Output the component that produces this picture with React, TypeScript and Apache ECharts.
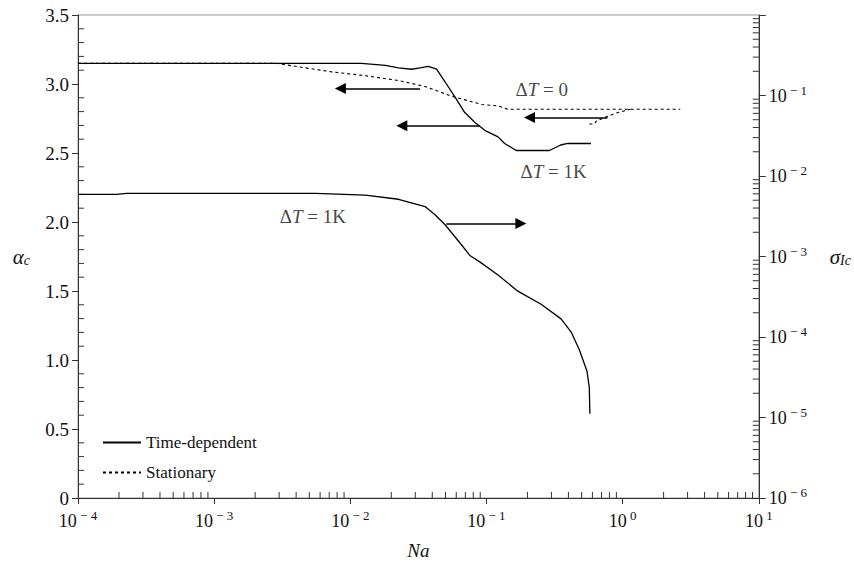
import React, { useEffect, useRef } from 'react';
import * as echarts from 'echarts';

// ---- data ----
// Time-dependent critical alpha (left axis)
const naAlphaTime = [1e-4, 0.0121, 0.0181, 0.0226, 0.0282, 0.0325, 0.0374, 0.043, 0.0495, 0.0586, 0.0693, 0.082, 0.0972, 0.1216, 0.136, 0.1655, 0.29, 0.351, 0.395, 0.585];
const alphaTime = [3.15, 3.15, 3.135, 3.117, 3.107, 3.117, 3.128, 3.107, 3.018, 2.907, 2.793, 2.723, 2.664, 2.617, 2.569, 2.518, 2.518, 2.558, 2.569, 2.569];

// Stationary critical alpha (left axis)
const naAlphaStat = [1e-4, 0.00284, 0.0042, 0.0073, 0.0129, 0.0226, 0.0354, 0.0553, 0.0918, 0.122, 0.144, 2.65];
const alphaStat = [3.15, 3.15, 3.124, 3.088, 3.06, 3.025, 2.982, 2.912, 2.852, 2.841, 2.817, 2.817];
const naAlphaStatHook = [0.57, 0.62, 0.64, 0.75, 0.9, 1.14];
const alphaStatHook = [2.71, 2.71, 2.73, 2.76, 2.79, 2.817];

// Time-dependent critical sigma_Ic (right axis)
const naSigmaTime = [1e-4, 1.92e-4, 2.27e-4, 5.56e-3, 0.0129, 0.0226, 0.0354, 0.0419, 0.0495, 0.062, 0.0755, 0.0893, 0.1216, 0.17, 0.252, 0.353, 0.418, 0.481, 0.547, 0.569, 0.575];
const sigmaTime = [5.9e-3, 5.9e-3, 6.07e-3, 6.07e-3, 5.78e-3, 5.14e-3, 4.17e-3, 3.3e-3, 2.5e-3, 1.57e-3, 1.03e-3, 8.57e-4, 5.9e-4, 3.71e-4, 2.55e-4, 1.68e-4, 1.16e-4, 6.93e-5, 3.78e-5, 2.37e-5, 1.11e-5];

// Arrows (left-axis coordinates): from Na, to Na, at alpha
const arrowFromNa = [0.0325, 0.0893, 0.774, 0.0507];
const arrowToNa = [0.00845, 0.0239, 0.207, 0.179];
const arrowAlpha = [2.967, 2.698, 2.758, 1.99];

// Annotations
const noteNa = [0.255, 0.311, 0.00531];
const noteAlpha = [2.958, 2.369, 2.039];
const noteSuffix = [' = 0', ' = 1K', ' = 1K'];

// Axes
const xMin = 1e-4;
const xMax = 10;
const yLeftTicks = [0, 0.5, 1.0, 1.5, 2.0, 2.5, 3.0, 3.5];
const yRightMin = 1e-6;
const yRightMax = 1;
const legendNames = ['Time-dependent', 'Stationary'];

const serif = '"Liberation Serif", "Times New Roman", serif';
const ink = '#111';
const axisInk = '#333';

const xMinor: number[][] = [];
for (let k = -4; k <= 0; k++) for (let m = 2; m <= 9; m++) xMinor.push([m * Math.pow(10, k), 0]);
const rMinor: number[][] = [];
for (let k = -6; k <= -1; k++) for (let m = 2; m <= 9; m++) rMinor.push([xMax, m * Math.pow(10, k)]);
const lMinor: number[][] = [];
for (let i = 1; i < 35; i++) if (i % 5 !== 0) lMinor.push([xMin, i / 10]);

const expLabel = (v: number) => {
  const e = Math.round(Math.log10(v));
  const s = e < 0 ? '\u2212 ' + -e : String(e);
  return `{b|10}{s| ${s}}`;
};
const richExp = {
  b: { fontSize: 18, fontFamily: serif, color: ink, lineHeight: 24 },
  s: { fontSize: 13, fontFamily: serif, color: ink, lineHeight: 13, verticalAlign: 'top' },
};
const richSub = {
  a: { fontFamily: serif, fontStyle: 'italic', fontSize: 21, color: ink, lineHeight: 22 },
  c: { fontFamily: serif, fontStyle: 'italic', fontSize: 14, color: ink, lineHeight: 14, verticalAlign: 'bottom' },
};

const option: any = {
  animation: false,
  backgroundColor: '#fff',
  grid: { left: 78, right: 92, top: 15, bottom: 55, show: true, borderColor: '#999', borderWidth: 1, backgroundColor: 'transparent' },
  legend: {
    data: legendNames,
    orient: 'vertical',
    left: 97,
    top: 429,
    itemWidth: 38,
    itemHeight: 14,
    itemGap: 13,
    itemStyle: { color: 'rgba(0,0,0,0)', borderColor: 'rgba(0,0,0,0)', borderWidth: 0, opacity: 0 },
    textStyle: { fontFamily: serif, fontSize: 17, color: ink },
  },
  xAxis: [
    {
      type: 'log',
      logBase: 10,
      min: xMin,
      max: xMax,
      splitNumber: 10,
      axisLine: { show: true, lineStyle: { color: axisInk, width: 1 } },
      axisTick: { show: true, length: 6, lineStyle: { color: axisInk } },
      axisLabel: { formatter: expLabel, rich: richExp, margin: 11, showMinLabel: true, showMaxLabel: true },
      splitLine: { show: false },
      minorTick: { show: false },
      name: '{i|Na}',
      nameLocation: 'middle',
      nameGap: 43,
      nameTextStyle: { rich: { i: { fontFamily: serif, fontStyle: 'italic', fontSize: 19, color: ink } } },
    },
  ],
  yAxis: [
    {
      type: 'value',
      min: yLeftTicks[0],
      max: yLeftTicks[yLeftTicks.length - 1],
      interval: 0.5,
      position: 'left',
      axisLine: { show: true, lineStyle: { color: axisInk, width: 1 } },
      axisTick: { show: true, length: 6, lineStyle: { color: axisInk } },
      axisLabel: {
        formatter: (v: number) => (v === 0 ? '0' : v.toFixed(1)),
        fontFamily: serif,
        fontSize: 19,
        color: ink,
        margin: 9,
      },
      splitLine: { show: false },
      name: '{a|\u03b1}{c|c}',
      nameLocation: 'middle',
      nameRotate: 0,
      nameGap: 48,
      nameTextStyle: { rich: richSub },
    },
    {
      type: 'log',
      logBase: 10,
      min: yRightMin,
      max: yRightMax,
      splitNumber: 10,
      position: 'right',
      axisLine: { show: true, lineStyle: { color: axisInk, width: 1 } },
      axisTick: { show: true, length: 7, lineStyle: { color: axisInk } },
      axisLabel: {
        formatter: (v: number) => (v >= 0.5 ? '' : expLabel(v)),
        rich: richExp,
        margin: 10,
        showMinLabel: true,
        showMaxLabel: true,
      },
      splitLine: { show: false },
      name: '{a|\u03c3}{c|Ic}',
      nameLocation: 'middle',
      nameRotate: 0,
      nameGap: 71,
      nameTextStyle: { align: 'left', rich: richSub },
    },
  ],
  series: [
    {
      name: 'Time-dependent',
      type: 'line',
      xAxisIndex: 0,
      yAxisIndex: 0,
      symbol: 'none',
      data: naAlphaTime.map((x, i) => [x, alphaTime[i]]),
      lineStyle: { color: '#000', width: 1.3, type: 'solid' },
      itemStyle: { color: '#000' },
    },
    {
      name: 'Time-dependent',
      type: 'line',
      xAxisIndex: 0,
      yAxisIndex: 1,
      symbol: 'none',
      data: naSigmaTime.map((x, i) => [x, sigmaTime[i]]),
      lineStyle: { color: '#000', width: 1.3, type: 'solid' },
      itemStyle: { color: '#000' },
    },
    {
      name: 'Stationary',
      type: 'line',
      xAxisIndex: 0,
      yAxisIndex: 0,
      symbol: 'none',
      data: naAlphaStat.map((x, i) => [x, alphaStat[i]]),
      lineStyle: { color: '#000', width: 1.1, type: [3, 3] },
      itemStyle: { color: '#000' },
    },
    {
      name: 'Stationary',
      type: 'line',
      xAxisIndex: 0,
      yAxisIndex: 0,
      symbol: 'none',
      data: naAlphaStatHook.map((x, i) => [x, alphaStatHook[i]]),
      lineStyle: { color: '#000', width: 1.1, type: [3, 3] },
      itemStyle: { color: '#000' },
    },
    {
      type: 'lines',
      coordinateSystem: 'cartesian2d',
      xAxisIndex: 0,
      yAxisIndex: 0,
      silent: true,
      symbol: ['none', 'triangle'],
      symbolSize: [1, 11],
      lineStyle: { color: '#000', width: 1.6, opacity: 1, curveness: 0 },
      data: arrowFromNa.map((x, i) => ({ coords: [[x, arrowAlpha[i]], [arrowToNa[i], arrowAlpha[i]]] })),
      z: 5,
    },
    {
      type: 'scatter',
      xAxisIndex: 0,
      yAxisIndex: 0,
      silent: true,
      symbolSize: 1,
      itemStyle: { color: 'rgba(0,0,0,0)' },
      data: noteNa.map((x, i) => ({ value: [x, noteAlpha[i]], name: noteSuffix[i] })),
      label: {
        show: true,
        position: 'inside',
        formatter: (p: any) => `{n|\u0394}{i|T}{n|${p.name}}`,
        rich: {
          n: { fontFamily: serif, fontSize: 19, color: ink },
          i: { fontFamily: serif, fontStyle: 'italic', fontSize: 19, color: ink },
        },
      },
    },
    {
      type: 'custom',
      xAxisIndex: 0,
      yAxisIndex: 0,
      silent: true,
      clip: false,
      data: xMinor,
      renderItem: (_p: any, api: any) => {
        const c = api.coord([api.value(0), 0]);
        return { type: 'line', shape: { x1: c[0], y1: c[1], x2: c[0], y2: c[1] - 6 }, style: { stroke: axisInk, lineWidth: 1 } };
      },
    },
    {
      type: 'custom',
      xAxisIndex: 0,
      yAxisIndex: 0,
      silent: true,
      clip: false,
      data: lMinor,
      renderItem: (_p: any, api: any) => {
        const c = api.coord([xMin, api.value(1)]);
        return { type: 'line', shape: { x1: c[0], y1: c[1], x2: c[0] + 6, y2: c[1] }, style: { stroke: axisInk, lineWidth: 1 } };
      },
    },
    {
      type: 'custom',
      xAxisIndex: 0,
      yAxisIndex: 1,
      silent: true,
      clip: false,
      data: rMinor,
      renderItem: (_p: any, api: any) => {
        const c = api.coord([xMax, api.value(1)]);
        return { type: 'line', shape: { x1: c[0], y1: c[1], x2: c[0] - 6, y2: c[1] }, style: { stroke: axisInk, lineWidth: 1 } };
      },
    },
  ],
};

export default function App() {
  const ref = useRef<HTMLDivElement>(null);
  useEffect(() => {
    const chart = echarts.init(ref.current!, null, { renderer: 'svg' });
    chart.setOption(option);
    return () => chart.dispose();
  }, []);
  return (
    <div
      ref={ref}
      style={{ position: 'fixed', left: 0, top: 0, width: 854, height: 565, background: '#fff' }}
    />
  );
}
